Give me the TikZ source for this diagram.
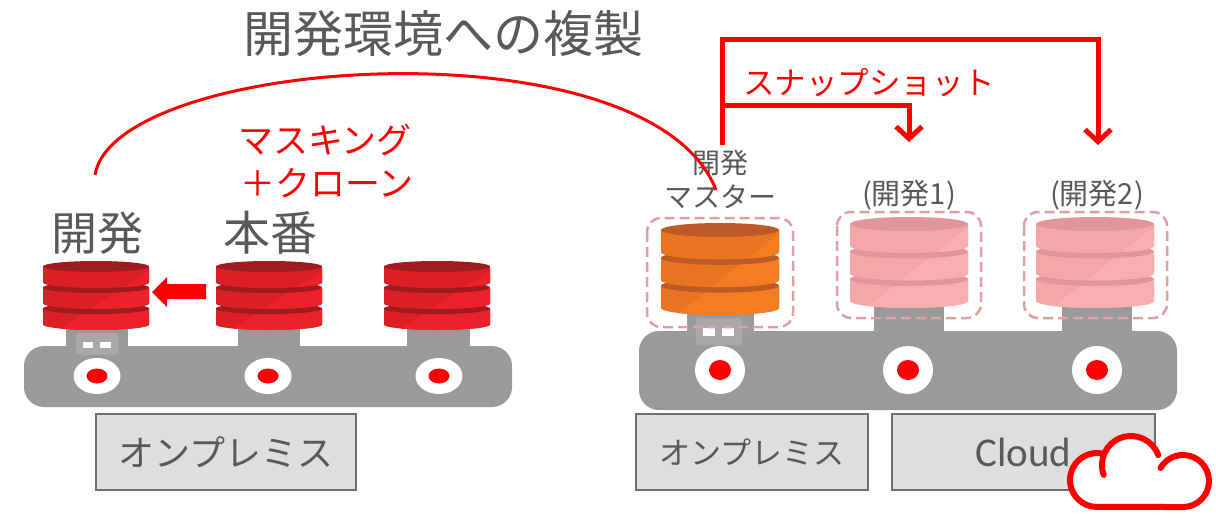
\documentclass[tikz,border=0pt]{standalone}
\usepackage{fontspec}
\setmainfont{Noto Sans CJK JP}
\newfontfamily\latinfont{Carlito}
\usetikzlibrary{arrows.meta}

\definecolor{txtgray}{HTML}{595959}
\definecolor{barg}{HTML}{9A9A9A}
\definecolor{neckin}{HTML}{A8A8A8}
\definecolor{boxfill}{HTML}{DEDEDE}
\definecolor{boxline}{HTML}{6E6E6E}
\definecolor{hotred}{HTML}{FF0000}
\definecolor{redbase}{HTML}{DC1F26}
\definecolor{redlight}{HTML}{EC2129}
\definecolor{reddark}{HTML}{9E1B20}
\definecolor{orgbase}{HTML}{E97421}
\definecolor{orglight}{HTML}{F47C21}
\definecolor{orgdark}{HTML}{BD5A26}
\definecolor{pinkbase}{HTML}{F6A5A8}
\definecolor{pinklight}{HTML}{F9AEB1}
\definecolor{pinkdark}{HTML}{E0969A}
\definecolor{dashpink}{HTML}{E0A0A2}

% stacked database icon: centre x, half width, top, bottom (px from top), ellipse ry, gap, colour family
\newcommand\dbstack[7]{%
  \pgfmathsetmacro\dbh{((#4-#5)-(#3+#5)-2*#6)/3}%
  \foreach \k in {2,1,0}{%
    \pgfmathsetmacro\yt{#3+#5+\k*(\dbh+#6)}%
    \pgfmathsetmacro\yb{\yt+\dbh}%
    \fill[#7base] (#1-#2,-\yt) -- (#1-#2,-\yb) arc[start angle=180,end angle=360,x radius=#2,y radius=#5] -- (#1+#2,-\yt) -- cycle;
    \begin{scope}
      \clip (#1-#2,-\yt) -- (#1-#2,-\yb) arc[start angle=180,end angle=360,x radius=#2,y radius=#5] -- (#1+#2,-\yt) -- cycle;
      \fill[#7light] (#1-0.78*#2,-#4-2) -- (#1+#2,-#3-10) -- (#1+#2+5,-#3) -- (#1+#2+5,-#4-5) -- cycle;
    \end{scope}
    \fill[#7dark] (#1,-\yt) ellipse[x radius=#2,y radius=#5];
  }%
}

\tikzset{
  lbl/.style={inner sep=0pt, text=txtgray},
  redlbl/.style={inner sep=0pt, text=hotred},
  envbox/.style={draw=boxline, fill=boxfill, line width=1.5pt, inner sep=0pt, text=txtgray},
  bar/.style={fill=barg, rounded corners=20pt},
  neck/.style={fill=barg},
  neckbox/.style={fill=neckin, rounded corners=3pt},
  slot/.style={fill=white},
  dashbox/.style={draw=dashpink, line width=2.5pt, dash pattern=on 10pt off 5pt, rounded corners=14pt},
  snapline/.style={draw=hotred, line width=5pt, -{Straight Barb[length=12pt,width=26pt]}},
  cloudline/.style={draw=hotred, line width=6pt, line cap=round},
}

\begin{document}
\begin{tikzpicture}[x=1pt,y=1pt]
\useasboundingbox (0,0) rectangle (1216,-519);
\fill[white] (0,0) rectangle (1216,-519);

% ---------- left: on-premises rack ----------
\fill[neck] (66,-320) rectangle (128,-347);
\fill[neck] (238,-320) rectangle (300,-347);
\fill[neck] (407,-320) rectangle (470,-347);
\fill[bar] (24,-346) rectangle (512,-407);
\fill[neckbox] (76,-333) rectangle (118,-355);
\fill[slot] (83,-342) rectangle (93,-348);
\fill[slot] (100,-342) rectangle (111,-348);
\foreach \cx in {97,268,439}{
  \fill[white] (\cx,-376) ellipse[x radius=23.5,y radius=18];
  \fill[hotred] (\cx,-376) ellipse[x radius=10.5,y radius=7.5];
}
\dbstack{96}{53}{261}{330}{5.5}{5}{red}
\dbstack{269}{53}{261}{330}{5.5}{5}{red}
\dbstack{437}{53}{261}{330}{5.5}{5}{red}

% copy arrow from production to development
\fill[hotred] (206,-284) -- (167,-284) -- (167,-277) -- (152,-292) -- (167,-307) -- (167,-299) -- (206,-299) -- cycle;

\node[lbl, font=\fontsize{46}{50}\selectfont] (devL) at (97,-233) {開発};
\node[lbl, font=\fontsize{47}{50}\selectfont] (prodL) at (270,-233) {本番};
\node[redlbl, font=\fontsize{35}{40}\selectfont] (mask1) at (325,-140) {マスキング};
\node[redlbl, font=\fontsize{35}{40}\selectfont] (mask2) at (327,-183) {＋クローン};

\node[envbox, minimum width=260pt, minimum height=76pt, font=\fontsize{36}{40}\selectfont] (onpremL) at (226,-452) {オンプレミス};

% ---------- right: on-premises + cloud rack ----------
\fill[neck] (687,-305) rectangle (754,-332);
\fill[neck] (874,-300) rectangle (944,-332);
\fill[neck] (1062,-300) rectangle (1132,-332);
\fill[bar] (639,-331) rectangle (1177,-410);
\fill[neckbox] (696,-318) rectangle (742,-345);
\fill[slot] (703,-328) rectangle (715,-336);
\fill[slot] (722,-328) rectangle (734,-336);
\foreach \cx in {720,908,1097}{
  \fill[white] (\cx,-370) ellipse[x radius=25,y radius=24];
  \fill[hotred] (\cx,-370) ellipse[x radius=11,y radius=10];
}
\dbstack{720}{59}{223}{315}{7}{5.5}{org}
\dbstack{909}{59}{217}{308}{7}{5.5}{pink}
\dbstack{1095}{59}{217}{308}{7}{5.5}{pink}
\draw[dashbox] (647,-218) rectangle (793,-327);
\draw[dashbox] (837,-212) rectangle (981,-318);
\draw[dashbox] (1024,-212) rectangle (1167,-318);

\node[lbl, font=\fontsize{28}{32}\selectfont] (masterA) at (720,-163) {開発};
\node[lbl, font=\fontsize{28}{32}\selectfont] (masterB) at (720,-197) {マスター};
\node[lbl, font=\fontsize{29}{32}\selectfont] (dev1) at (909,-195) {(開発1)};
\node[lbl, font=\fontsize{29}{32}\selectfont] (dev2) at (1097,-195) {(開発2)};

\node[envbox, minimum width=232pt, minimum height=76pt, font=\fontsize{31}{36}\selectfont] (onpremR) at (752,-452) {オンプレミス};
\node[envbox, minimum width=263pt, minimum height=76pt, font=\latinfont\fontsize{41}{44}\selectfont] (cloudbox) at (1023.5,-452) {Cloud};

% cloud icon: white body, then the three lobes outlined
\fill[white] (1097,-480) circle[radius=27];
\fill[white] (1131,-465) circle[radius=29];
\fill[white] (1183,-481) circle[radius=26];
\fill[white] (1097,-507) rectangle (1183,-470);
\draw[cloudline] (1104,-453.9) arc[start angle=75,end angle=270,radius=27] -- (1183,-507) arc[start angle=270,end angle=510,radius=26];
\draw[cloudline] (1103.7,-474.9) arc[start angle=200,end angle=20,radius=29];

% ---------- titles and connectors ----------
\node[lbl, font=\fontsize{50}{56}\selectfont] (title) at (443,-34) {開発環境への複製};
\node[redlbl, font=\fontsize{31.5}{36}\selectfont] (snapL) at (869,-83) {スナップショット};

\coordinate (arcL) at (95,-175);
\coordinate (arcR) at (716,-190);
\draw[hotred, line width=3pt] (arcL) .. controls (115,-55) and (650,-20) .. (arcR);

\coordinate (snapbase) at (722,-145);
\coordinate (snapTopR) at (1098,-40);
\coordinate (tip2) at (1098,-145);
\coordinate (branch) at (722,-105);
\coordinate (tip1) at (909,-142);
\draw[snapline] (snapbase) |- (snapTopR) -- (tip2);
\draw[snapline] (branch) -| (tip1);
\end{tikzpicture}
\end{document}
